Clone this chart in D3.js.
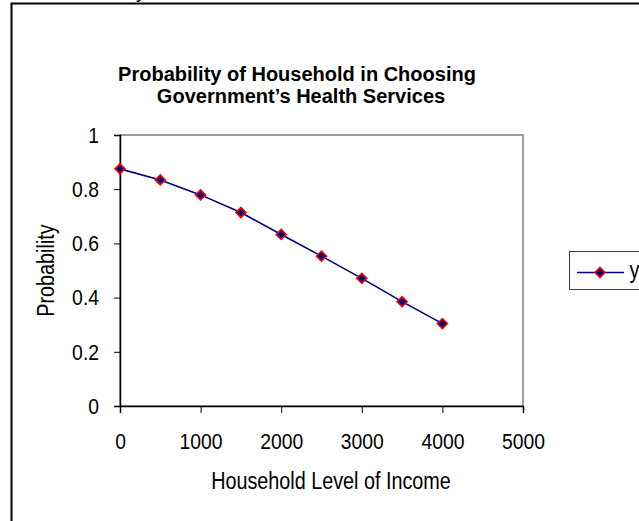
<!DOCTYPE html>
<html>
<head>
<meta charset="utf-8">
<script src="https://cdn.jsdelivr.net/npm/d3@7"></script>
<style>
  html, body { margin: 0; padding: 0; background: #fff; overflow: hidden; }
  svg { display: block; font-family: "Liberation Sans", Arial, sans-serif; }
</style>
</head>
<body>
<svg id="chart" width="639" height="521"></svg>
<script>
// --- data ---
const income = [0, 500, 1000, 1500, 2000, 2500, 3000, 3500, 4000];
const probability = [0.875, 0.834, 0.779, 0.714, 0.633, 0.553, 0.471, 0.385, 0.304];
const xTicks = [0, 1000, 2000, 3000, 4000, 5000];
const yTicks = [0, 0.2, 0.4, 0.6, 0.8, 1];
const titleLines = ["Probability of Household in Choosing", "Government\u2019s Health Services"];
const seriesName = "y";

const svg = d3.select("#chart");
const NAVY = "#000080", RED = "#ff0000";
const SQ = 0.86;          // text in the picture is horizontally squeezed
const FS = 22.5;

// plot area in page pixels
const P = { left: 120, right: 523, top: 135, bottom: 406 };

const x = d3.scaleLinear().domain([0, 5000]).range([P.left, P.right]);
const y = d3.scaleLinear().domain([0, 1]).range([P.bottom, P.top]);

// outer chart frame (cropped on the right and bottom)
svg.append("rect")
  .attr("x", 11.5).attr("y", 3.5).attr("width", 700).attr("height", 600)
  .attr("fill", "none").attr("stroke", "#000").attr("stroke-width", 2);

// stray descender from document text above the frame
svg.append("text").attr("x", 136).attr("y", -2)
  .attr("font-size", 20).text("y");

// plot area border
svg.append("rect")
  .attr("x", P.left).attr("y", P.top)
  .attr("width", P.right - P.left).attr("height", P.bottom - P.top)
  .attr("fill", "none").attr("stroke", "#808080").attr("stroke-width", 1.5);

// title
svg.append("g").selectAll("text").data(titleLines).join("text")
  .attr("x", (d, i) => i === 0 ? 297 : 301)
  .attr("y", (d, i) => 81 + i * 22)
  .attr("text-anchor", "middle")
  .attr("font-size", 20).attr("font-weight", "bold")
  .text((d) => d);

// axes
const xAxis = svg.append("g").attr("transform", `translate(0,${P.bottom})`)
  .call(d3.axisBottom(x).tickValues(xTicks).tickSize(7).tickPadding(20).tickFormat(d3.format("d")));
const yAxis = svg.append("g").attr("transform", `translate(${P.left},0)`)
  .call(d3.axisLeft(y).tickValues(yTicks).tickSize(6).tickPadding(15).tickFormat((d) => d));

[xAxis, yAxis].forEach((a) => {
  a.select(".domain").attr("stroke", "#000").attr("stroke-width", 1.5);
  a.selectAll(".tick line").attr("stroke", "#000").attr("stroke-width", 1);
  a.selectAll(".tick text").attr("font-size", FS).attr("fill", "#000")
    .attr("font-family", "'Liberation Sans', Arial, sans-serif")
    .attr("transform", `scale(${SQ},1)`)
    .attr("x", function () { return +d3.select(this).attr("x") / SQ; });
});

// axis titles
svg.append("text")
  .attr("transform", `translate(331,489) scale(${SQ},1)`)
  .attr("text-anchor", "middle").attr("font-size", 23)
  .text("Household Level of Income");
svg.append("text")
  .attr("transform", `translate(54,${y(0.5)}) rotate(-90) scale(${SQ},1)`)
  .attr("text-anchor", "middle").attr("font-size", 23)
  .text("Probability");

// series
const pts = income.map((v, i) => ({ x: v, y: probability[i] }));
svg.append("path").datum(pts)
  .attr("fill", "none").attr("stroke", NAVY).attr("stroke-width", 1.6)
  .attr("d", d3.line().x((d) => x(d.x)).y((d) => y(d.y)));

const marker = d3.symbol().type(d3.symbolSquare).size(50);
svg.append("g").selectAll("path").data(pts).join("path")
  .attr("transform", (d) => `translate(${x(d.x)},${y(d.y)}) rotate(45)`)
  .attr("d", marker)
  .attr("fill", NAVY).attr("stroke", RED).attr("stroke-width", 1.6);

// legend (cropped at right edge)
const lg = svg.append("g").attr("transform", "translate(569.5,251.5)");
lg.append("rect").attr("width", 100).attr("height", 38)
  .attr("fill", "#fff").attr("stroke", "#404040").attr("stroke-width", 1);
lg.append("line").attr("x1", 7.5).attr("x2", 54.5).attr("y1", 21).attr("y2", 21)
  .attr("stroke", NAVY).attr("stroke-width", 1.6);
lg.append("path").attr("transform", "translate(30.5,21) rotate(45)")
  .attr("d", marker)
  .attr("fill", NAVY).attr("stroke", RED).attr("stroke-width", 1.6);
lg.append("text").attr("transform", `translate(60,26) scale(${SQ},1)`)
  .attr("font-size", 23).text(seriesName);
</script>
</body>
</html>
